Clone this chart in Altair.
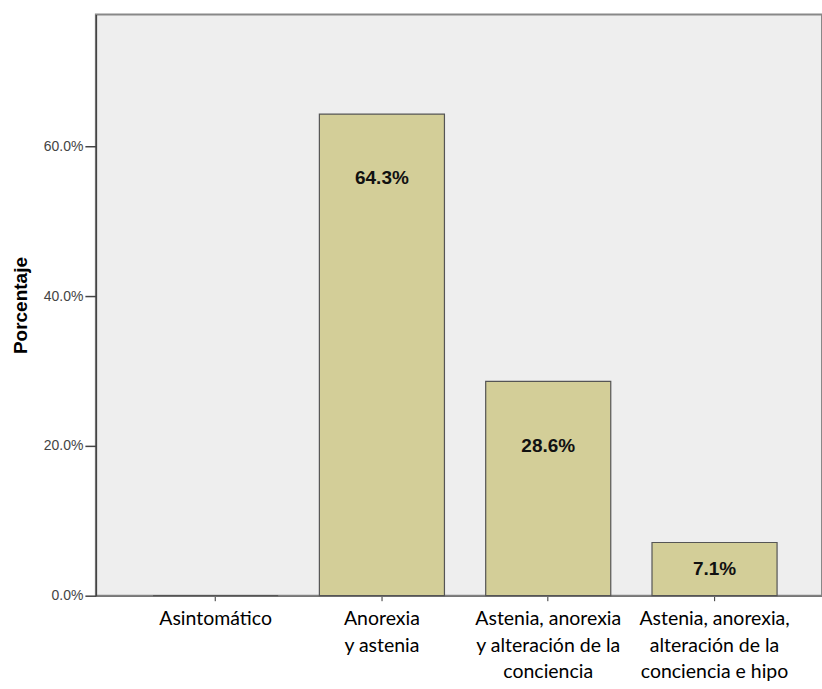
import altair as alt
import pandas as pd

# Síntomas al ingreso y su porcentaje
categorias = [
    "Asintomático",
    "Anorexia\ny astenia",
    "Astenia, anorexia\ny alteración de la\nconciencia",
    "Astenia, anorexia,\nalteración de la\nconciencia e hipo",
]
porcentajes = [0.0, 64.3, 28.6, 7.1]
marcas_y = [0, 20, 40, 60]

df = pd.DataFrame({"categoria": categorias, "porcentaje": porcentajes})

x_enc = alt.X(
    "categoria:N",
    sort=categorias,
    title=None,
    scale=alt.Scale(paddingInner=0.248, paddingOuter=0.307, align=0.56),
    axis=alt.Axis(
        labelAngle=0,
        labelExpr="split(datum.label, '\\n')",
        labelFont="Lato",
        labelFontSize=19.5,
        labelLineHeight=26.5,
        labelColor="#000000",
        labelPadding=9,
        labelBaseline="top",
        labelLimit=300,
        tickSize=5,
        tickColor="#333333",
        domainColor="#777777",
        domainWidth=1.5,
    ),
)

y_scale = alt.Scale(domain=[0, 77.6], nice=False, zero=True)

barras = alt.Chart(df).mark_bar(
    color="#D3CE98", stroke="#555555", strokeWidth=1.2
).encode(
    x=x_enc,
    y=alt.Y(
        "porcentaje:Q",
        scale=y_scale,
        title="Porcentaje",
        axis=alt.Axis(
            values=marcas_y,
            labelExpr="format(datum.value, '.1f') + '%'",
            labelFont="Arial, Liberation Sans",
            labelFontSize=14,
            labelColor="#444444",
            labelPadding=2,
            tickSize=11,
            tickColor="#444444",
            tickWidth=1.5,
            grid=False,
            domainColor="#444444",
            domainWidth=1.5,
            titleFont="Arial, Liberation Sans",
            titleFontSize=19,
            titleFontWeight="bold",
            titleColor="#000000",
            titlePadding=13,
        ),
    ),
)

etiquetas = alt.Chart(df).transform_filter(
    alt.datum.porcentaje > 0
).transform_calculate(
    pos="max(datum.porcentaje - 8.6, datum.porcentaje / 2)",
    texto="format(datum.porcentaje, '.1f') + '%'",
).mark_text(
    font="Arial, Liberation Sans",
    fontSize=19,
    fontWeight="bold",
    color="#111111",
    baseline="middle",
).encode(
    x=alt.X("categoria:N", sort=categorias),
    y=alt.Y("pos:Q", scale=y_scale),
    text="texto:N",
)

chart = (
    alt.layer(barras, etiquetas)
    .properties(
        width=727,
        height=582,
        autosize=alt.AutoSizeParams(type="none"),
        padding={"left": 96, "top": 14, "right": 0, "bottom": 93},
        background="#FFFFFF",
    )
    .configure_view(fill="#EEEEEE", stroke="#888888", strokeWidth=2)
)

chart.save("out.html", embed_options={"renderer": "svg", "actions": False})
